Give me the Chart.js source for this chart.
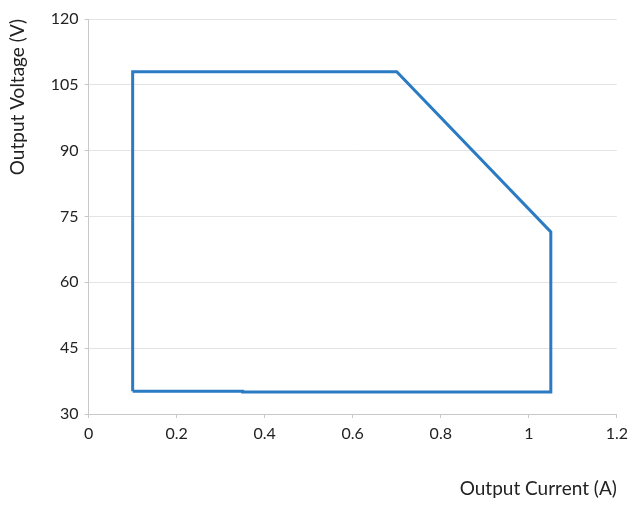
<!DOCTYPE html>
<html>
<head>
<meta charset="utf-8">
<script src="https://cdn.jsdelivr.net/npm/chart.js@4/dist/chart.umd.min.js"></script>
<style>
  html, body { margin: 0; padding: 0; background: #fff; }
  #wrap { width: 634px; height: 505px; }
</style>
</head>
<body>
<div id="wrap"><canvas id="chart" width="634" height="505"></canvas></div>
<script>
// 출력 범위 경계 (전류 A, 전압 V)
const currentA = [0.1, 0.1, 0.7, 1.05, 1.05, 0.35, 0.35, 0.1];
const voltageV = [35.2, 108, 108, 71.5, 35, 35, 35.2, 35.2];

const xTicks = [0, 0.2, 0.4, 0.6, 0.8, 1, 1.2];
const yTicks = [30, 45, 60, 75, 90, 105, 120];

const tickFont = { family: 'Lato, "Open Sans", sans-serif', size: 16 };
const titleFont = { family: 'Lato, "Open Sans", sans-serif', size: 19 };
const axisGrey = '#c8c8c8';

const points = currentA.map((x, i) => ({ x: x, y: voltageV[i] }));

new Chart(document.getElementById('chart').getContext('2d'), {
    type: 'scatter',
    data: {
        datasets: [{
            data: points,
            showLine: true,
            borderColor: '#2a7bc4',
            borderWidth: 3,
            pointRadius: 0,
            fill: false,
            tension: 0
        }]
    },
    options: {
        responsive: false,
        animation: false,
        layout: { padding: { top: 19, right: 15, left: 6, bottom: 5 } },
        plugins: { legend: { display: false }, tooltip: { enabled: false } },
        scales: {
            x: {
                type: 'linear',
                min: xTicks[0],
                max: xTicks[xTicks.length - 1],
                afterBuildTicks: (axis) => { axis.ticks = xTicks.map(v => ({ value: v })); },
                ticks: {
                    color: '#222',
                    font: tickFont,
                    padding: 6,
                    callback: (v) => String(parseFloat(v.toFixed(1)))
                },
                grid: { drawOnChartArea: false, drawTicks: true, tickLength: 4, color: axisGrey },
                border: { color: axisGrey },
                title: {
                    display: true,
                    text: 'Output Current (A)',
                    align: 'end',
                    color: '#222',
                    font: titleFont,
                    padding: { top: 28, bottom: 0 }
                }
            },
            y: {
                type: 'linear',
                min: yTicks[0],
                max: yTicks[yTicks.length - 1],
                afterBuildTicks: (axis) => { axis.ticks = yTicks.map(v => ({ value: v })); },
                ticks: { color: '#222', font: tickFont, padding: 6 },
                grid: { color: '#e4e4e4', tickLength: 4, tickColor: axisGrey },
                border: { color: axisGrey },
                title: {
                    display: true,
                    text: 'Output Voltage (V)',
                    align: 'end',
                    color: '#222',
                    font: titleFont,
                    padding: { top: 0, bottom: 16 }
                }
            }
        }
    }
});
</script>
</body>
</html>
